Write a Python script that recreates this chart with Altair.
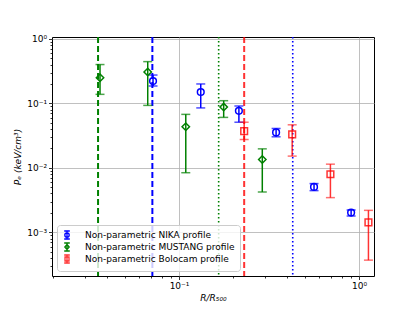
import altair as alt
import pandas as pd

# ---------------- data ----------------
nika_x = [0.0717, 0.132, 0.215, 0.346, 0.562, 0.903]
nika_y = [0.222, 0.150, 0.0767, 0.0354, 0.00505, 0.00202]
nika_lo = [0.186, 0.085, 0.051, 0.0303, 0.00443, 0.00179]
nika_hi = [0.275, 0.200, 0.091, 0.0408, 0.0057, 0.00222]

must_x = [0.0364, 0.067, 0.109, 0.177, 0.290]
must_y = [0.250, 0.307, 0.0433, 0.0876, 0.01346]
must_lo = [0.138, 0.093, 0.0084, 0.0606, 0.00422]
must_hi = [0.400, 0.444, 0.0675, 0.110, 0.0197]

bolo_x = [0.230, 0.425, 0.693, 1.127]
bolo_y = [0.0371, 0.0330, 0.00795, 0.001426]
bolo_lo = [0.0275, 0.0152, 0.00345, 0.00037]
bolo_hi = [0.051, 0.0465, 0.0114, 0.00219]

# vertical reference lines
vline_x = [0.0355, 0.0711, 0.166, 0.230, 0.428]
vline_series = ["MUSTANG", "NIKA", "MUSTANG", "Bolocam", "NIKA"]
vline_style = ["dashed", "dashed", "dotted", "dashed", "dotted"]

series_names = ["Non-parametric NIKA profile",
                "Non-parametric MUSTANG profile",
                "Non-parametric Bolocam profile"]
series_colors = ["#0000ff", "#008000", "rgba(255,0,0,0.8)"]

x_ticks = [0.02, 0.03, 0.04, 0.05, 0.06, 0.07, 0.08, 0.09, 0.1,
           0.2, 0.3, 0.4, 0.5, 0.6, 0.7, 0.8, 0.9, 1]
y_ticks = [0.0003, 0.0004, 0.0005, 0.0006, 0.0007, 0.0008, 0.0009, 0.001,
           0.002, 0.003, 0.004, 0.005, 0.006, 0.007, 0.008, 0.009, 0.01,
           0.02, 0.03, 0.04, 0.05, 0.06, 0.07, 0.08, 0.09, 0.1,
           0.2, 0.3, 0.4, 0.5, 0.6, 0.7, 0.8, 0.9, 1]

x_domain = [0.0197, 1.21]
y_domain = [0.00021, 1.07]

# ---------------- build ----------------
xs = alt.Scale(type="log", domain=x_domain, nice=False)
ys = alt.Scale(type="log", domain=y_domain, nice=False)

x_major = "datum.value == 0.1 || datum.value == 1"
y_major = ("datum.value == 1 || datum.value == 0.1 || datum.value == 0.01 "
           "|| datum.value == 0.001")

x_axis = alt.Axis(
    values=x_ticks, title="R/R₅₀₀", titleFontStyle="italic",
    labelExpr="datum.value == 0.1 ? '10⁻¹' : datum.value == 1 ? '10⁰' : ''",
    tickSize={"condition": {"test": x_major, "value": 3.5}, "value": 2},
    gridOpacity={"condition": {"test": x_major, "value": 1}, "value": 0},
    labelOverlap=False, labelFlush=False, titlePadding=3,
)
y_axis = alt.Axis(
    values=y_ticks, title="Pₑ  (keV/cm³)", titleFontStyle="italic",
    labelExpr=("datum.value == 1 ? '10⁰' : datum.value == 0.1 ? '10⁻¹' : "
               "datum.value == 0.01 ? '10⁻²' : datum.value == 0.001 ? '10⁻³' : ''"),
    tickSize={"condition": {"test": y_major, "value": 3.5}, "value": 2},
    gridOpacity={"condition": {"test": y_major, "value": 1}, "value": 0},
    labelOverlap=False, labelFlush=False, titlePadding=4,
)

# vertical lines
vl = pd.DataFrame({"x": vline_x, "s": vline_series, "style": vline_style})
vcolor = {"NIKA": "#0000ff", "MUSTANG": "#008000", "Bolocam": "rgba(255,0,0,0.8)"}
layers = []
for (s, st), g in vl.groupby(["s", "style"]):
    if st == "dashed":
        m = alt.Chart(g).mark_rule(color=vcolor[s], strokeWidth=2, strokeDash=[6, 3])
    else:
        m = alt.Chart(g).mark_rule(color=vcolor[s], strokeWidth=1.6, strokeDash=[1.5, 2.5])
    layers.append(m.encode(x=alt.X("x:Q", scale=xs, axis=x_axis)))

series = [
    ("NIKA", nika_x, nika_y, nika_lo, nika_hi, series_colors[0], "circle", 45),
    ("MUSTANG", must_x, must_y, must_lo, must_hi, series_colors[1], "diamond", 55),
    ("Bolocam", bolo_x, bolo_y, bolo_lo, bolo_hi, series_colors[2], "square", 45),
]
for name, x, y, lo, hi, col, shp, sz in series:
    d = pd.DataFrame({"x": x, "y": y, "lo": lo, "hi": hi})
    base = alt.Chart(d)
    layers.append(base.mark_rule(color=col, strokeWidth=1.5).encode(
        x=alt.X("x:Q", scale=xs), y=alt.Y("lo:Q", scale=ys, axis=y_axis), y2="hi:Q"))
    layers.append(base.mark_tick(color=col, orient="horizontal", size=9, thickness=1.5).encode(
        x=alt.X("x:Q", scale=xs), y=alt.Y("lo:Q", scale=ys)))
    layers.append(base.mark_tick(color=col, orient="horizontal", size=9, thickness=1.5).encode(
        x=alt.X("x:Q", scale=xs), y=alt.Y("hi:Q", scale=ys)))
    layers.append(base.mark_point(color=col, shape=shp, size=sz, filled=False,
                                  strokeWidth=1.5, opacity=1).encode(
        x=alt.X("x:Q", scale=xs), y=alt.Y("y:Q", scale=ys)))

# legend-only layer
bar = "M-0.7,-1H0.7M0,-1V1M-0.7,1H0.7"
leg_paths = [
    bar + "M0.55,0A0.55,0.55 0 1,1 -0.55,0A0.55,0.55 0 1,1 0.55,0Z",
    bar + "M0,-0.65L0.55,0L0,0.65L-0.55,0Z",
    bar + "M-0.5,-0.5H0.5V0.5H-0.5Z",
]
leg = pd.DataFrame({"x": [nika_x[0], must_x[0], bolo_x[0]],
                    "y": [nika_y[0], must_y[0], bolo_y[0]],
                    "series": series_names})
layers.append(alt.Chart(leg).mark_point(opacity=0, filled=False, strokeWidth=1.3, size=64).encode(
    x=alt.X("x:Q", scale=xs), y=alt.Y("y:Q", scale=ys),
    color=alt.Color("series:N", scale=alt.Scale(domain=series_names, range=series_colors),
                    legend=alt.Legend(title=None, orient="bottom-left", offset=5,
                                      symbolOpacity=1, symbolSize=64,
                                      symbolStrokeWidth=1.3, symbolFillColor="transparent",
                                      labelFontSize=9, labelFont="DejaVu Sans",
                                      labelColor="black", labelLimit=300,
                                      fillColor="rgba(255,255,255,0.8)",
                                      strokeColor="#cccccc", cornerRadius=3,
                                      padding=5, rowPadding=-2.5, labelOffset=13)),
    shape=alt.Shape("series:N", scale=alt.Scale(domain=series_names, range=leg_paths)),
))

chart = alt.layer(*layers).properties(
    width=322, height=239,
    autosize=alt.AutoSizeParams(type="none"),
    padding={"left": 44, "top": 29, "right": 30, "bottom": 26},
).configure_view(stroke="black", strokeWidth=1).configure_axis(
    gridColor="#b0b0b0", gridWidth=0.8, domain=False,
    tickColor="black", tickWidth=0.8,
    labelFont="DejaVu Sans", labelFontSize=9, labelColor="black",
    titleFont="DejaVu Sans", titleFontSize=9, titleColor="black",
    titleFontWeight="normal", labelPadding=2,
)

chart.save("out.html", embed_options={"renderer": "svg", "actions": False})
